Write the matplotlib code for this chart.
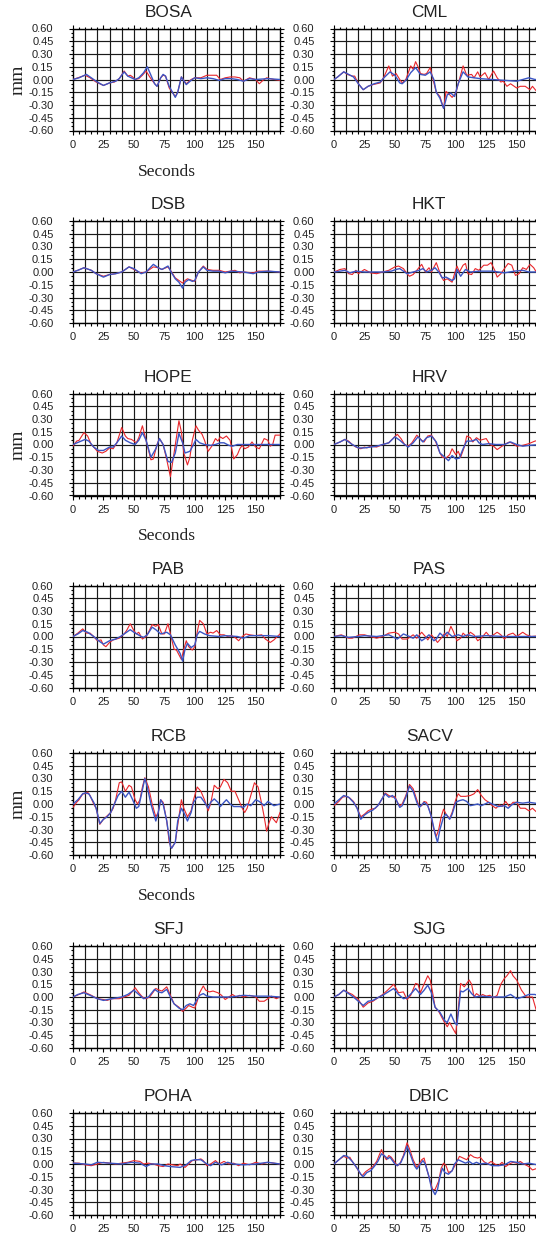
import matplotlib
matplotlib.use("Agg")
import matplotlib.pyplot as plt
from matplotlib.ticker import MultipleLocator

# =========================
# Dados: (segundos, mm) lidos do gráfico
# vermelho = observado, azul = sintético
# =========================

BOSA_RED = [(0, 0), (4, 0.02), (10, 0.05), (14, 0.02), (19, -0.03), (25, -0.07), (30, -0.04), (34, -0.03),
            (38, 0.01), (42, 0.10), (45, 0.04), (47, 0.05), (49, 0.03), (51, 0.0), (54, 0.01), (57, 0.05),
            (60, 0.10), (63, 0.03), (66, -0.03), (69, -0.08), (72, 0.02), (74, 0.05), (76, 0.04), (79, -0.10),
            (84, -0.20), (86, -0.15), (89, 0.03), (93, -0.05), (97, 0.0), (100, 0.02), (105, 0.02), (110, 0.05),
            (115, 0.05), (118, 0.05), (121, 0.0), (125, 0.02), (129, 0.03), (133, 0.03), (137, 0.02), (140, -0.02),
            (145, 0.02), (150, 0.0), (153, -0.05), (156, -0.01), (159, 0.02), (165, 0.0), (170, -0.01)]
BOSA_BLUE = [(0, 0), (5, 0.02), (11, 0.06), (15, 0.02), (20, -0.03), (25, -0.07), (30, -0.04), (35, -0.02),
             (38, 0.01), (42, 0.09), (45, 0.04), (48, 0.02), (51, 0.0), (54, 0.02), (58, 0.08), (61, 0.15),
             (64, 0.05), (67, -0.05), (69, -0.08), (72, 0.02), (74, 0.06), (76, 0.04), (79, -0.08), (84, -0.21),
             (86, -0.15), (89, 0.03), (93, -0.06), (97, -0.01), (100, 0.02), (105, 0.01), (110, 0.02), (115, 0.01),
             (120, -0.01), (125, 0.01), (130, 0.01), (135, 0.0), (140, -0.02), (145, 0.01), (150, 0.0), (160, 0.01),
             (170, 0.0)]

CML_RED = [(0, 0), (3, 0.03), (8, 0.09), (11, 0.06), (15, 0.04), (17, 0.04), (20, -0.05), (24, -0.12), (28, -0.08),
           (32, -0.06), (38, -0.04), (41, 0.03), (45, 0.16), (48, 0.04), (51, 0.07), (54, 0.0), (56, -0.04),
           (59, 0.0), (63, 0.16), (65, 0.12), (67, 0.21), (69, 0.15), (71, 0.07), (74, 0.06), (76, 0.07), (79, 0.14),
           (81, 0.02), (84, -0.15), (87, -0.20), (90, -0.34), (92, -0.14), (95, -0.18), (97, -0.21), (100, -0.16),
           (103, 0.0), (106, 0.16), (109, 0.05), (113, 0.06), (115, 0.02), (118, 0.09), (120, 0.03), (124, 0.08),
           (127, 0.0), (131, 0.10), (134, 0.02), (137, -0.03), (139, -0.02), (142, -0.08), (145, -0.05),
           (150, -0.10), (153, -0.08), (157, -0.08), (161, -0.12), (163, -0.08), (167, -0.15), (170, -0.12)]
CML_BLUE = [(0, 0), (3, 0.03), (8, 0.09), (12, 0.06), (16, 0.03), (20, -0.05), (24, -0.12), (28, -0.08),
            (33, -0.05), (38, -0.03), (41, 0.02), (46, 0.09), (50, 0.05), (54, -0.04), (56, -0.05), (59, -0.01),
            (63, 0.08), (67, 0.14), (71, 0.06), (75, 0.05), (79, 0.09), (82, 0.0), (84, -0.15), (87, -0.22),
            (90, -0.34), (93, -0.18), (96, -0.16), (99, -0.20), (102, -0.05), (106, 0.09), (110, 0.03), (115, 0.02),
            (120, 0.01), (130, 0.0), (140, -0.01), (150, -0.02), (155, 0.0), (160, 0.02), (165, 0.0), (170, 0.0)]

DSB_RED = [(0, 0), (4, 0.02), (9, 0.05), (15, 0.02), (19, -0.02), (25, -0.05), (30, -0.03), (35, -0.02), (40, 0.0),
           (46, 0.06), (50, 0.03), (54, 0.0), (56, -0.01), (60, 0.0), (66, 0.06), (70, 0.05), (73, 0.03), (78, 0.06),
           (81, 0.0), (84, -0.07), (87, -0.10), (90, -0.13), (92, -0.10), (94, -0.08), (98, -0.10), (100, -0.11),
           (103, 0.0), (107, 0.07), (110, 0.03), (115, 0.02), (120, 0.02), (125, 0.0), (133, 0.02), (137, -0.01),
           (140, 0.0), (148, -0.01), (152, 0.01), (160, 0.01), (170, 0.0)]
DSB_BLUE = [(0, 0), (4, 0.02), (9, 0.05), (15, 0.02), (19, -0.02), (25, -0.06), (30, -0.03), (35, -0.02), (40, 0.0),
            (46, 0.06), (50, 0.04), (54, 0.0), (56, -0.02), (60, 0.0), (66, 0.09), (70, 0.05), (73, 0.03),
            (78, 0.07), (81, -0.01), (84, -0.08), (87, -0.12), (90, -0.19), (92, -0.12), (95, -0.09), (98, -0.11),
            (100, -0.10), (103, 0.0), (107, 0.06), (110, 0.02), (115, 0.01), (120, 0.01), (125, -0.01), (130, 0.01),
            (140, 0.0), (148, -0.02), (152, 0.0), (160, 0.01), (170, 0.0)]

HKT_RED = [(0, 0), (5, 0.03), (9, 0.04), (12, -0.02), (15, -0.03), (18, 0.02), (20, -0.02), (25, 0.03), (30, -0.01),
           (35, -0.02), (40, 0.0), (45, 0.02), (50, 0.06), (53, 0.07), (57, 0.04), (60, -0.02), (62, -0.05),
           (65, -0.03), (68, 0.02), (72, 0.09), (75, 0.0), (78, 0.05), (80, 0.0), (84, 0.11), (86, 0.03),
           (88, -0.05), (90, -0.10), (93, -0.08), (97, -0.12), (99, -0.02), (101, 0.07), (103, 0.0), (106, 0.08),
           (108, 0.10), (110, -0.02), (113, -0.03), (116, 0.04), (119, 0.02), (123, 0.08), (126, 0.08),
           (129, 0.11), (132, 0.02), (134, -0.06), (137, -0.02), (140, 0.04), (143, 0.10), (146, 0.08),
           (149, -0.04), (152, -0.02), (155, 0.05), (158, 0.03), (161, 0.09), (164, 0.05), (167, -0.02), (170, 0.0)]
HKT_BLUE = [(0, 0), (5, 0.01), (9, 0.02), (13, -0.01), (18, 0.01), (25, 0.0), (40, 0.0), (47, 0.01), (51, 0.03),
            (54, 0.04), (58, 0.0), (60, -0.02), (65, 0.0), (70, 0.02), (73, 0.04), (76, 0.0), (80, 0.02),
            (83, 0.05), (86, 0.0), (89, -0.07), (92, -0.06), (97, -0.10), (99, -0.08), (101, 0.03), (104, -0.05),
            (108, 0.03), (112, 0.0), (120, 0.01), (130, 0.01), (140, -0.01), (148, 0.01), (155, 0.02), (160, 0.0),
            (170, 0.0)]

HOPE_RED = [(0, -0.02), (3, 0.04), (5, 0.05), (9, 0.14), (12, 0.10), (15, 0.0), (17, -0.03), (20, -0.08),
            (24, -0.10), (27, -0.08), (30, -0.04), (33, -0.05), (36, 0.02), (40, 0.20), (43, 0.10), (45, 0.07),
            (48, 0.06), (52, 0.02), (54, 0.08), (57, 0.22), (60, 0.05), (64, -0.18), (66, -0.17), (69, 0.0),
            (71, 0.07), (74, 0.0), (77, -0.18), (80, -0.38), (83, -0.10), (87, 0.28), (89, 0.15), (91, -0.10),
            (94, -0.24), (96, -0.15), (98, 0.05), (101, 0.22), (103, 0.17), (106, 0.12), (108, 0.05), (111, -0.08),
            (114, -0.02), (117, 0.07), (119, 0.04), (121, 0.09), (123, 0.07), (126, 0.10), (129, 0.05),
            (132, -0.17), (135, -0.12), (137, -0.05), (139, -0.01), (141, -0.05), (144, -0.03), (147, 0.03),
            (150, -0.03), (153, -0.05), (157, 0.07), (160, 0.05), (162, -0.02), (164, 0.0), (166, 0.11), (170, 0.11)]
HOPE_BLUE = [(0, 0), (5, 0.03), (10, 0.06), (13, 0.04), (17, -0.03), (21, -0.07), (25, -0.07), (30, -0.03),
             (33, -0.03), (36, 0.02), (40, 0.10), (43, 0.05), (47, 0.02), (51, 0.0), (54, 0.05), (57, 0.14),
             (60, 0.05), (64, -0.15), (68, -0.05), (71, 0.07), (74, 0.0), (78, -0.20), (81, -0.21), (84, -0.10),
             (87, 0.13), (90, 0.02), (92, -0.10), (96, -0.08), (99, 0.0), (101, 0.06), (104, 0.02), (108, 0.0),
             (113, -0.01), (117, 0.0), (121, 0.02), (124, 0.02), (128, -0.01), (131, -0.02), (135, 0.0), (170, 0.0)]

HRV_RED = [(0, 0), (5, 0.03), (9, 0.06), (12, 0.04), (15, 0.0), (18, -0.03), (22, -0.05), (25, -0.03), (27, -0.04),
           (30, -0.02), (35, -0.03), (40, 0.0), (45, 0.02), (49, 0.08), (52, 0.12), (55, 0.07), (58, 0.0),
           (61, -0.02), (64, 0.02), (68, 0.11), (72, 0.05), (74, 0.03), (77, 0.10), (80, 0.11), (83, 0.05),
           (87, -0.10), (89, -0.15), (92, -0.16), (95, -0.12), (97, -0.05), (100, -0.12), (102, -0.08), (104, -0.15),
           (107, -0.03), (109, 0.10), (112, 0.08), (114, 0.03), (117, 0.08), (120, 0.05), (125, 0.07), (128, 0.0),
           (131, -0.02), (134, -0.06), (137, -0.03), (140, 0.0), (144, 0.03), (147, 0.01), (150, -0.02),
           (155, -0.01), (160, 0.01), (165, 0.04), (168, 0.05), (170, 0.03)]
HRV_BLUE = [(0, 0), (5, 0.03), (9, 0.06), (15, 0.0), (20, -0.04), (25, -0.04), (35, -0.02), (40, 0.0), (45, 0.02),
            (50, 0.09), (54, 0.05), (58, 0.0), (61, -0.03), (65, 0.02), (69, 0.09), (73, 0.03), (76, 0.08),
            (80, 0.10), (84, 0.03), (87, -0.10), (91, -0.15), (94, -0.19), (97, -0.13), (100, -0.17), (103, -0.16),
            (106, -0.05), (109, 0.04), (113, 0.04), (117, 0.06), (119, 0.02), (122, 0.0), (127, 0.01), (133, 0.0),
            (140, 0.0), (145, 0.03), (150, 0.0), (155, -0.02), (160, -0.01), (170, 0.0)]

PAB_RED = [(0, 0), (4, 0.04), (8, 0.09), (11, 0.04), (14, 0.04), (17, 0.0), (20, -0.05), (23, -0.04), (25, -0.10),
           (27, -0.12), (30, -0.07), (33, -0.04), (38, -0.02), (42, 0.03), (44, 0.07), (47, 0.15), (50, 0.07),
           (52, 0.03), (54, 0.05), (57, -0.03), (60, 0.0), (62, 0.05), (65, 0.14), (68, 0.12), (70, 0.14),
           (73, 0.03), (75, 0.03), (78, 0.15), (80, 0.03), (83, -0.15), (85, -0.16), (89, -0.27), (91, -0.15),
           (93, -0.05), (95, -0.12), (98, -0.16), (100, -0.12), (102, 0.05), (104, 0.19), (107, 0.15), (110, 0.03),
           (113, 0.05), (115, 0.04), (118, 0.07), (121, 0.02), (124, 0.02), (127, 0.0), (130, 0.01), (133, -0.01),
           (136, -0.05), (139, 0.0), (142, 0.03), (145, 0.02), (150, 0.01), (155, 0.02), (158, -0.03),
           (162, -0.07), (165, -0.04), (170, 0.03)]
PAB_BLUE = [(0, 0), (4, 0.03), (8, 0.07), (12, 0.05), (17, 0.0), (21, -0.05), (25, -0.09), (30, -0.05), (35, -0.03),
            (39, 0.0), (44, 0.05), (47, 0.08), (50, 0.05), (56, 0.0), (58, -0.01), (61, 0.02), (65, 0.11),
            (68, 0.08), (72, 0.03), (77, 0.05), (80, 0.02), (84, -0.10), (88, -0.20), (90, -0.29), (92, -0.15),
            (94, -0.08), (97, -0.13), (100, -0.10), (102, 0.02), (104, 0.06), (108, 0.03), (112, 0.01), (120, 0.0),
            (125, 0.01), (135, 0.0), (140, -0.02), (145, 0.01), (160, 0.01), (170, 0.0)]

PAS_RED = [(0, 0), (6, 0.02), (9, 0.0), (12, -0.02), (15, -0.02), (18, 0.0), (21, 0.02), (25, 0.02), (30, 0.0),
           (35, -0.02), (40, 0.0), (45, 0.04), (50, 0.05), (53, 0.03), (56, -0.03), (60, -0.03), (63, 0.0),
           (65, 0.02), (68, -0.02), (72, 0.05), (75, 0.0), (77, -0.04), (80, 0.02), (83, -0.03), (85, -0.07),
           (88, -0.02), (91, 0.04), (93, 0.0), (96, 0.12), (98, 0.06), (101, -0.05), (104, -0.02), (106, 0.04),
           (109, 0.0), (112, 0.05), (115, 0.02), (118, -0.05), (121, -0.02), (125, 0.05), (128, 0.0), (131, 0.02),
           (134, 0.05), (137, 0.02), (140, -0.03), (143, 0.02), (147, 0.04), (150, 0.0), (155, 0.05), (158, 0.02),
           (162, 0.0), (170, 0.01)]
PAS_BLUE = [(0, 0), (6, 0.01), (12, -0.01), (20, 0.0), (25, 0.01), (35, 0.0), (45, 0.02), (52, -0.03), (57, 0.03),
            (62, 0.0), (65, -0.02), (68, 0.02), (72, -0.05), (75, -0.02), (78, 0.02), (82, -0.05), (84, -0.03),
            (87, 0.04), (90, 0.0), (93, 0.05), (97, 0.0), (102, 0.02), (106, 0.0), (110, 0.02), (115, 0.0),
            (125, 0.01), (140, 0.0), (170, 0.0)]

RCB_RED = [(0, -0.04), (3, 0.02), (5, 0.05), (8, 0.12), (10, 0.12), (12, 0.14), (14, 0.10), (17, 0.0), (19, -0.05),
           (22, -0.24), (25, -0.18), (28, -0.14), (31, -0.10), (33, -0.05), (35, 0.05), (38, 0.25), (40, 0.26),
           (43, 0.15), (46, 0.22), (48, 0.20), (51, 0.05), (53, 0.0), (55, 0.05), (57, 0.20), (59, 0.31),
           (62, 0.20), (65, 0.0), (68, -0.15), (70, -0.10), (72, 0.05), (74, 0.02), (77, -0.20), (79, -0.45),
           (81, -0.52), (84, -0.45), (87, -0.15), (89, 0.05), (91, -0.05), (94, -0.15), (97, -0.08), (99, 0.05),
           (102, 0.20), (105, 0.15), (108, 0.05), (111, -0.08), (113, 0.0), (116, 0.22), (119, 0.18), (121, 0.20),
           (124, 0.29), (127, 0.25), (130, 0.15), (133, 0.15), (136, 0.05), (139, -0.05), (141, -0.10),
           (143, -0.05), (145, 0.05), (147, 0.15), (149, 0.25), (152, 0.20), (155, 0.0), (157, -0.15),
           (159, -0.32), (161, -0.22), (163, -0.15), (167, -0.22), (170, -0.10)]
RCB_BLUE = [(0, 0), (4, 0.05), (8, 0.12), (10, 0.13), (13, 0.12), (17, 0.02), (19, -0.05), (22, -0.23), (25, -0.18),
            (28, -0.15), (31, -0.10), (34, 0.0), (37, 0.10), (40, 0.15), (43, 0.08), (46, 0.14), (49, 0.05),
            (52, -0.05), (54, -0.03), (56, 0.10), (59, 0.30), (61, 0.20), (64, 0.0), (68, -0.20), (70, -0.10),
            (72, 0.05), (74, 0.0), (77, -0.20), (80, -0.50), (81, -0.52), (84, -0.45), (86, -0.20), (89, -0.05),
            (91, -0.10), (94, -0.20), (97, -0.10), (99, 0.02), (102, 0.08), (105, 0.08), (108, 0.02), (111, -0.05),
            (113, 0.02), (116, 0.06), (119, 0.02), (121, -0.03), (124, 0.02), (126, 0.05), (129, 0.0), (132, -0.03),
            (137, -0.03), (140, -0.04), (143, 0.0), (146, -0.02), (150, 0.05), (153, 0.03), (157, -0.02),
            (160, 0.03), (165, -0.02), (170, 0.0)]

SACV_RED = [(0, -0.02), (4, 0.03), (7, 0.08), (10, 0.09), (13, 0.07), (16, 0.03), (19, -0.05), (22, -0.15),
            (25, -0.12), (28, -0.08), (31, -0.06), (34, -0.05), (37, 0.0), (39, 0.05), (42, 0.13), (45, 0.10),
            (48, 0.08), (50, 0.09), (52, 0.02), (54, -0.02), (56, 0.0), (59, 0.10), (62, 0.23), (65, 0.18),
            (68, 0.05), (70, -0.03), (72, -0.02), (74, 0.03), (76, 0.02), (79, -0.10), (82, -0.30), (84, -0.38),
            (86, -0.30), (88, -0.15), (90, -0.06), (92, -0.12), (95, -0.17), (97, -0.10), (100, 0.05), (102, 0.12),
            (104, 0.09), (108, 0.09), (112, 0.10), (115, 0.12), (118, 0.17), (121, 0.10), (124, 0.05), (127, 0.02),
            (130, -0.02), (133, -0.05), (136, -0.01), (138, -0.03), (141, 0.03), (144, -0.03), (147, 0.02),
            (150, 0.02), (153, -0.05), (157, -0.05), (160, -0.08), (163, -0.05), (166, -0.09), (170, -0.06)]
SACV_BLUE = [(0, 0), (4, 0.05), (8, 0.10), (12, 0.08), (16, 0.02), (19, -0.05), (22, -0.18), (25, -0.13),
             (28, -0.10), (32, -0.07), (36, -0.02), (39, 0.05), (42, 0.12), (45, 0.08), (48, 0.10), (51, 0.05),
             (54, -0.04), (56, -0.02), (59, 0.08), (62, 0.21), (65, 0.15), (68, 0.02), (70, -0.04), (74, 0.02),
             (77, -0.02), (80, -0.15), (83, -0.35), (85, -0.45), (87, -0.30), (90, -0.15), (92, -0.12), (95, -0.18),
             (97, -0.12), (100, 0.02), (103, 0.04), (106, 0.05), (109, 0.03), (112, -0.02), (115, -0.01),
             (118, 0.0), (121, -0.02), (124, 0.0), (127, 0.02), (130, 0.0), (135, -0.03), (140, -0.02),
             (143, -0.05), (146, -0.01), (150, 0.02), (155, 0.01), (160, 0.02), (165, 0.01), (170, 0.0)]

SFJ_RED = [(0, 0), (5, 0.03), (9, 0.06), (12, 0.04), (15, 0.02), (20, -0.02), (25, -0.03), (28, -0.04), (32, -0.02),
           (38, -0.02), (42, 0.0), (46, 0.02), (49, 0.07), (51, 0.11), (54, 0.05), (57, 0.0), (60, -0.02),
           (63, 0.0), (65, 0.04), (68, 0.10), (71, 0.08), (73, 0.07), (77, 0.12), (80, 0.02), (83, -0.08),
           (87, -0.12), (90, -0.17), (93, -0.13), (95, -0.10), (98, -0.12), (100, -0.13), (102, -0.05), (104, 0.05),
           (107, 0.13), (109, 0.08), (112, 0.06), (115, 0.07), (119, 0.05), (122, 0.02), (125, -0.03), (128, 0.0),
           (131, 0.03), (134, 0.0), (137, 0.02), (140, 0.0), (145, 0.02), (150, 0.0), (153, -0.05), (157, -0.05),
           (160, -0.02), (163, 0.01), (167, -0.02), (170, 0.0)]
SFJ_BLUE = [(0, 0), (4, 0.03), (9, 0.05), (14, 0.02), (20, -0.02), (25, -0.04), (32, -0.02), (40, 0.0), (45, 0.03),
            (50, 0.08), (54, 0.03), (58, -0.02), (62, 0.0), (67, 0.09), (70, 0.06), (73, 0.05), (77, 0.09),
            (80, 0.0), (83, -0.08), (87, -0.13), (90, -0.15), (93, -0.10), (96, -0.08), (99, -0.10), (101, -0.05),
            (104, 0.02), (107, 0.04), (110, 0.01), (115, 0.0), (130, 0.0), (140, 0.02), (150, 0.01), (160, 0.01),
            (170, 0.0)]

SJG_RED = [(0, 0), (4, 0.03), (8, 0.08), (12, 0.05), (15, 0.03), (20, -0.03), (24, -0.12), (28, -0.07), (32, -0.05),
           (37, 0.0), (40, 0.03), (44, 0.08), (49, 0.15), (53, 0.05), (57, 0.06), (60, -0.03), (63, 0.02),
           (67, 0.16), (69, 0.15), (71, 0.05), (73, 0.12), (77, 0.25), (79, 0.20), (81, 0.05), (83, -0.12),
           (86, -0.17), (90, -0.28), (93, -0.35), (95, -0.30), (98, -0.38), (100, -0.43), (102, -0.15),
           (104, 0.16), (107, 0.12), (111, 0.20), (113, 0.15), (115, 0.0), (117, 0.04), (120, 0.01), (122, 0.03),
           (125, 0.01), (128, 0.02), (131, -0.01), (134, 0.02), (137, 0.15), (140, 0.22), (142, 0.25),
           (145, 0.31), (147, 0.25), (150, 0.20), (154, 0.08), (158, 0.0), (163, 0.0), (166, -0.15), (170, -0.20)]
SJG_BLUE = [(0, 0), (4, 0.03), (8, 0.08), (12, 0.04), (16, 0.0), (20, -0.05), (24, -0.10), (28, -0.05), (32, -0.04),
            (37, 0.0), (40, 0.02), (49, 0.10), (53, 0.03), (57, -0.02), (60, -0.01), (64, 0.05), (67, 0.10),
            (71, 0.03), (74, 0.08), (77, 0.14), (80, 0.05), (83, -0.12), (87, -0.18), (91, -0.28), (93, -0.30),
            (96, -0.20), (99, -0.30), (101, -0.33), (104, 0.07), (106, 0.06), (110, 0.10), (113, 0.04), (116, 0.0),
            (120, 0.01), (130, 0.0), (140, 0.0), (145, 0.03), (150, -0.02), (155, 0.0), (160, 0.03), (165, 0.03),
            (170, 0.0)]

POHA_RED = [(0, 0.01), (5, 0.01), (10, -0.01), (15, -0.02), (20, 0.0), (25, 0.02), (30, 0.01), (35, 0.0),
            (40, 0.01), (45, 0.02), (50, 0.04), (55, 0.03), (58, 0.0), (62, 0.01), (66, 0.0), (70, -0.02),
            (74, -0.03), (78, 0.0), (82, -0.01), (86, -0.02), (88, 0.0), (92, -0.04), (95, 0.0), (98, 0.04),
            (102, 0.05), (105, 0.06), (107, 0.04), (110, -0.02), (113, 0.0), (117, 0.04), (120, 0.0), (124, 0.03),
            (128, 0.0), (132, 0.01), (136, -0.02), (140, 0.01), (145, -0.01), (150, 0.02), (155, 0.0), (160, 0.02),
            (170, 0.0)]
POHA_BLUE = [(0, 0.01), (10, 0.0), (15, -0.01), (20, 0.02), (30, 0.01), (40, 0.0), (48, 0.02), (55, 0.01),
             (60, -0.03), (64, 0.0), (70, 0.0), (75, -0.02), (80, -0.03), (88, -0.04), (93, -0.01), (97, 0.04),
             (100, 0.05), (105, 0.05), (110, 0.0), (113, -0.02), (117, 0.02), (122, -0.01), (127, 0.02), (132, 0.0),
             (140, -0.01), (150, 0.0), (160, 0.02), (170, 0.0)]

DBIC_RED = [(0, 0), (4, 0.05), (8, 0.09), (11, 0.07), (13, 0.08), (15, 0.03), (18, -0.03), (21, -0.10), (23, -0.14),
            (26, -0.09), (29, -0.06), (32, -0.03), (35, 0.03), (37, 0.10), (39, 0.17), (41, 0.10), (43, 0.05),
            (45, 0.10), (47, 0.08), (50, 0.02), (52, -0.02), (54, 0.0), (57, 0.10), (60, 0.25), (62, 0.18),
            (65, 0.05), (68, -0.04), (70, 0.0), (72, 0.05), (74, 0.07), (76, -0.05), (79, -0.20), (81, -0.30),
            (83, -0.30), (86, -0.20), (88, -0.05), (90, 0.01), (92, -0.02), (94, -0.10), (97, -0.08), (100, 0.0),
            (103, 0.09), (106, 0.07), (109, 0.05), (112, 0.11), (115, 0.08), (118, 0.07), (120, 0.08), (123, 0.03),
            (126, 0.0), (129, 0.03), (132, 0.0), (135, -0.02), (138, 0.02), (141, -0.03), (144, 0.0), (147, 0.02),
            (150, 0.01), (153, 0.03), (156, 0.0), (160, -0.03), (163, -0.07), (167, -0.05), (170, -0.06)]
DBIC_BLUE = [(0, 0), (4, 0.05), (8, 0.10), (11, 0.09), (15, 0.03), (19, -0.05), (22, -0.12), (24, -0.15),
             (27, -0.10), (30, -0.08), (33, -0.03), (36, 0.03), (39, 0.12), (42, 0.09), (44, 0.06), (46, 0.08),
             (50, 0.0), (52, -0.02), (55, 0.02), (58, 0.12), (60, 0.21), (63, 0.10), (66, -0.02), (68, -0.06),
             (71, 0.0), (73, 0.04), (75, 0.0), (78, -0.15), (80, -0.28), (83, -0.36), (85, -0.30), (87, -0.15),
             (89, -0.05), (91, -0.10), (94, -0.12), (97, -0.08), (99, 0.0), (102, 0.05), (105, 0.03), (108, 0.01),
             (111, 0.03), (114, 0.0), (117, 0.02), (120, 0.0), (125, 0.01), (130, -0.02), (135, -0.02),
             (140, -0.01), (145, 0.03), (150, 0.02), (155, 0.0), (160, 0.01), (167, -0.01), (170, 0.0)]

STATIONS = ["BOSA", "CML", "DSB", "HKT", "HOPE", "HRV", "PAB",
            "PAS", "RCB", "SACV", "SFJ", "SJG", "POHA", "DBIC"]

SERIES = {
    "BOSA": (BOSA_RED, BOSA_BLUE), "CML": (CML_RED, CML_BLUE),
    "DSB": (DSB_RED, DSB_BLUE), "HKT": (HKT_RED, HKT_BLUE),
    "HOPE": (HOPE_RED, HOPE_BLUE), "HRV": (HRV_RED, HRV_BLUE),
    "PAB": (PAB_RED, PAB_BLUE), "PAS": (PAS_RED, PAS_BLUE),
    "RCB": (RCB_RED, RCB_BLUE), "SACV": (SACV_RED, SACV_BLUE),
    "SFJ": (SFJ_RED, SFJ_BLUE), "SJG": (SJG_RED, SJG_BLUE),
    "POHA": (POHA_RED, POHA_BLUE), "DBIC": (DBIC_RED, DBIC_BLUE),
}

Y_TICKS = [0.60, 0.45, 0.30, 0.15, 0.00, -0.15, -0.30, -0.45, -0.60]
X_TICKS = [0, 25, 50, 75, 100, 125, 150]
GRID_X = [10, 20, 30, 40, 50, 60, 70, 80, 90, 100, 110, 120, 130, 140, 150, 160]

# =========================
# Layout (pixels)
# =========================

W, H = 536, 1236
ROW_TOP = [28.5, 221, 393.5, 585.5, 753, 946, 1113]
COL_LEFT = [73, 334]
AX_W, AX_H = 207, 102

RED = "#e8262b"
BLUE = "#3b55c4"
SANS = ["Liberation Sans", "DejaVu Sans"]
SERIF = ["Liberation Serif", "DejaVu Serif"]

fig = plt.figure(figsize=(W / 100, H / 100), dpi=100)

for i, name in enumerate(STATIONS):
    row, col = divmod(i, 2)
    top = ROW_TOP[row]
    left = COL_LEFT[col]
    ax = fig.add_axes([left / W, 1 - (top + AX_H) / H, AX_W / W, AX_H / H])

    red, blue = SERIES[name]
    ax.plot([p[0] for p in red], [p[1] for p in red], color=RED, lw=0.8, zorder=3)
    ax.plot([p[0] for p in blue], [p[1] for p in blue], color=BLUE, lw=1.0, zorder=4)

    ax.set_xlim(0, 170)
    ax.set_ylim(-0.6, 0.6)

    ax.set_xticks(X_TICKS)
    ax.set_xticklabels([str(v) for v in X_TICKS])
    ax.xaxis.set_minor_locator(MultipleLocator(5))
    ax.set_yticks(Y_TICKS)
    ax.set_yticklabels([f"{v:.2f}" for v in Y_TICKS])
    ax.yaxis.set_minor_locator(MultipleLocator(0.05))

    ax.grid(axis="y", color="#1a1a1a", lw=0.85, zorder=1)
    for gx in GRID_X:
        ax.axvline(gx, color="#1a1a1a", lw=0.85, zorder=1)

    ax.tick_params(which="both", direction="out", top=True, right=True,
                   width=0.8, color="black")
    ax.tick_params(which="major", length=3)
    ax.tick_params(which="minor", length=1.8)
    ax.tick_params(axis="y", pad=11, labelsize=8)
    ax.tick_params(axis="x", pad=3.5, labelsize=8)
    for lbl in ax.get_xticklabels() + ax.get_yticklabels():
        lbl.set_family(SANS)
        lbl.set_color("#222222")
    for sp in ax.spines.values():
        sp.set_linewidth(1.0)

    ax.annotate(name, xy=(0.46, 1.0), xycoords="axes fraction",
                xytext=(0, 8.6), textcoords="offset points",
                ha="center", va="baseline", fontsize=12.4,
                family=SANS, color="#222222")

    if col == 0 and row in (0, 2, 4):
        fig.text(18 / W, 1 - (top + AX_H / 2) / H, "mm", rotation=90,
                 ha="center", va="center", fontsize=14, family=SERIF,
                 color="#222222")
        fig.text(167 / W, 1 - (top + AX_H + 41) / H, "Seconds",
                 ha="center", va="center", fontsize=12.5, family=SERIF,
                 color="#222222")

fig.savefig("out.png", dpi=100)
